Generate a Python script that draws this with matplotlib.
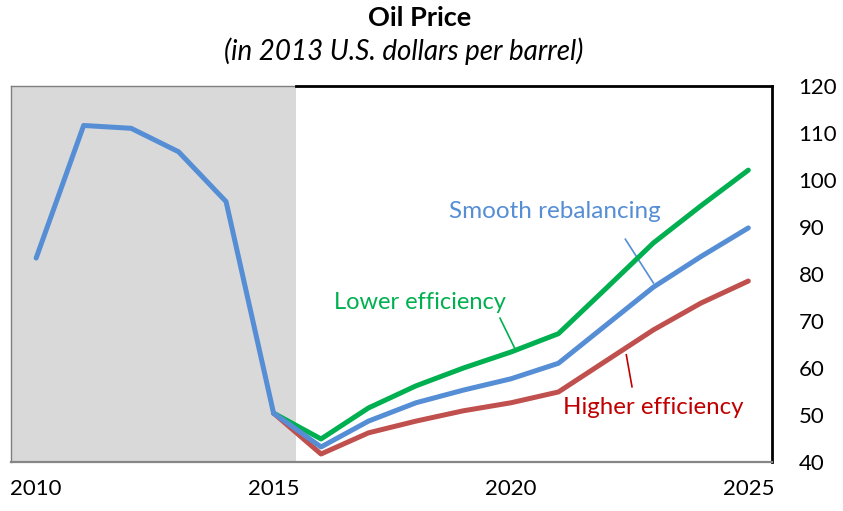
import matplotlib
matplotlib.use('Agg')
import matplotlib.pyplot as plt
from matplotlib.patches import Rectangle

plt.rcParams['font.family'] = ['Lato', 'DejaVu Sans']

# data
hist_years = [2010, 2011, 2012, 2013, 2014, 2015]
hist_price = [83.4, 111.6, 111.0, 106.0, 95.4, 50.4]

proj_years = [2015, 2016, 2017, 2018, 2019, 2020, 2021, 2022, 2023, 2024, 2025]
smooth = [50.4, 43.2, 48.7, 52.6, 55.3, 57.7, 61.0, 69.1, 77.2, 83.7, 89.8]
lower_eff = [50.4, 44.9, 51.5, 56.2, 60.0, 63.4, 67.3, 76.9, 86.6, 94.5, 102.1]
higher_eff = [50.4, 41.7, 46.2, 48.7, 50.9, 52.6, 54.9, 61.5, 68.1, 73.8, 78.5]

xticks = [2010, 2015, 2020, 2025]
yticks = [40, 50, 60, 70, 80, 90, 100, 110, 120]

c_green = '#00B050'
c_blue = '#558ED5'
c_red = '#C0504D'
c_red_txt = '#C00000'

fig = plt.figure(figsize=(8.43, 5.11), dpi=100)
ax = fig.add_axes([0.01305, 0.0959, 0.9028, 0.7358])

x0, x1 = 2009.47, 2025.5
shade_end = 2015.48
ax.set_xlim(x0, x1)
ax.set_ylim(40, 120)

# history shading
ax.add_patch(Rectangle((x0, 40), shade_end - x0, 80, facecolor='#D9D9D9',
                       edgecolor='none', zorder=0))

lw = 3.6
kw = dict(linewidth=lw, solid_capstyle='round', solid_joinstyle='round')
ax.plot(proj_years, lower_eff, color=c_green, zorder=3, **kw)
ax.plot(proj_years, higher_eff, color=c_red, zorder=3, **kw)
ax.plot(hist_years + proj_years[1:], hist_price + smooth[1:], color=c_blue, zorder=4, **kw)

# labels with leader lines
ax.text(2020.93, 93.4, 'Smooth rebalancing', color=c_blue, fontsize=17.5,
        ha='center', va='center')
ax.plot([2022.41, 2023.0], [87.4, 78.1], color=c_blue, linewidth=1.2)

ax.text(2018.09, 74.0, 'Lower efficiency', color=c_green, fontsize=17,
        ha='center', va='center')
ax.plot([2019.77, 2020.09], [70.6, 64.0], color=c_green, linewidth=1.2)

ax.text(2023.0, 51.5, 'Higher efficiency', color=c_red_txt, fontsize=17.3,
        ha='center', va='center')
ax.plot([2022.43, 2022.55], [62.8, 56.0], color=c_red_txt, linewidth=1.2)

# axes frame
for s in ['top', 'right', 'left', 'bottom']:
    ax.spines[s].set_visible(False)
frac = (shade_end - x0) / (x1 - x0)
ax.axhline(120, xmin=0, xmax=frac, color='#7F7F7F', linewidth=1, clip_on=False, zorder=5)
ax.axhline(120, xmin=frac, xmax=1, color='black', linewidth=2, clip_on=False, zorder=5)
ax.axvline(x1, color='black', linewidth=2, clip_on=False, zorder=5)
ax.axvline(x0, color='#7F7F7F', linewidth=1, clip_on=False, zorder=5)
ax.axhline(40, color='#868686', linewidth=1.6, clip_on=False, zorder=5)

ax.set_xticks(xticks)
ax.set_yticks(yticks)
ax.yaxis.tick_right()
ax.tick_params(axis='both', length=0, labelsize=16)
ax.tick_params(axis='y', pad=19)
ax.tick_params(axis='x', pad=12)

fig.text(0.498, 0.965, 'Oil Price', fontsize=19.5, fontweight='bold', ha='center', va='center')
fig.text(0.4787, 0.900, '(in 2013 U.S. dollars per barrel)', fontsize=20, style='italic',
         ha='center', va='center')

fig.savefig('out.png', dpi=100)
